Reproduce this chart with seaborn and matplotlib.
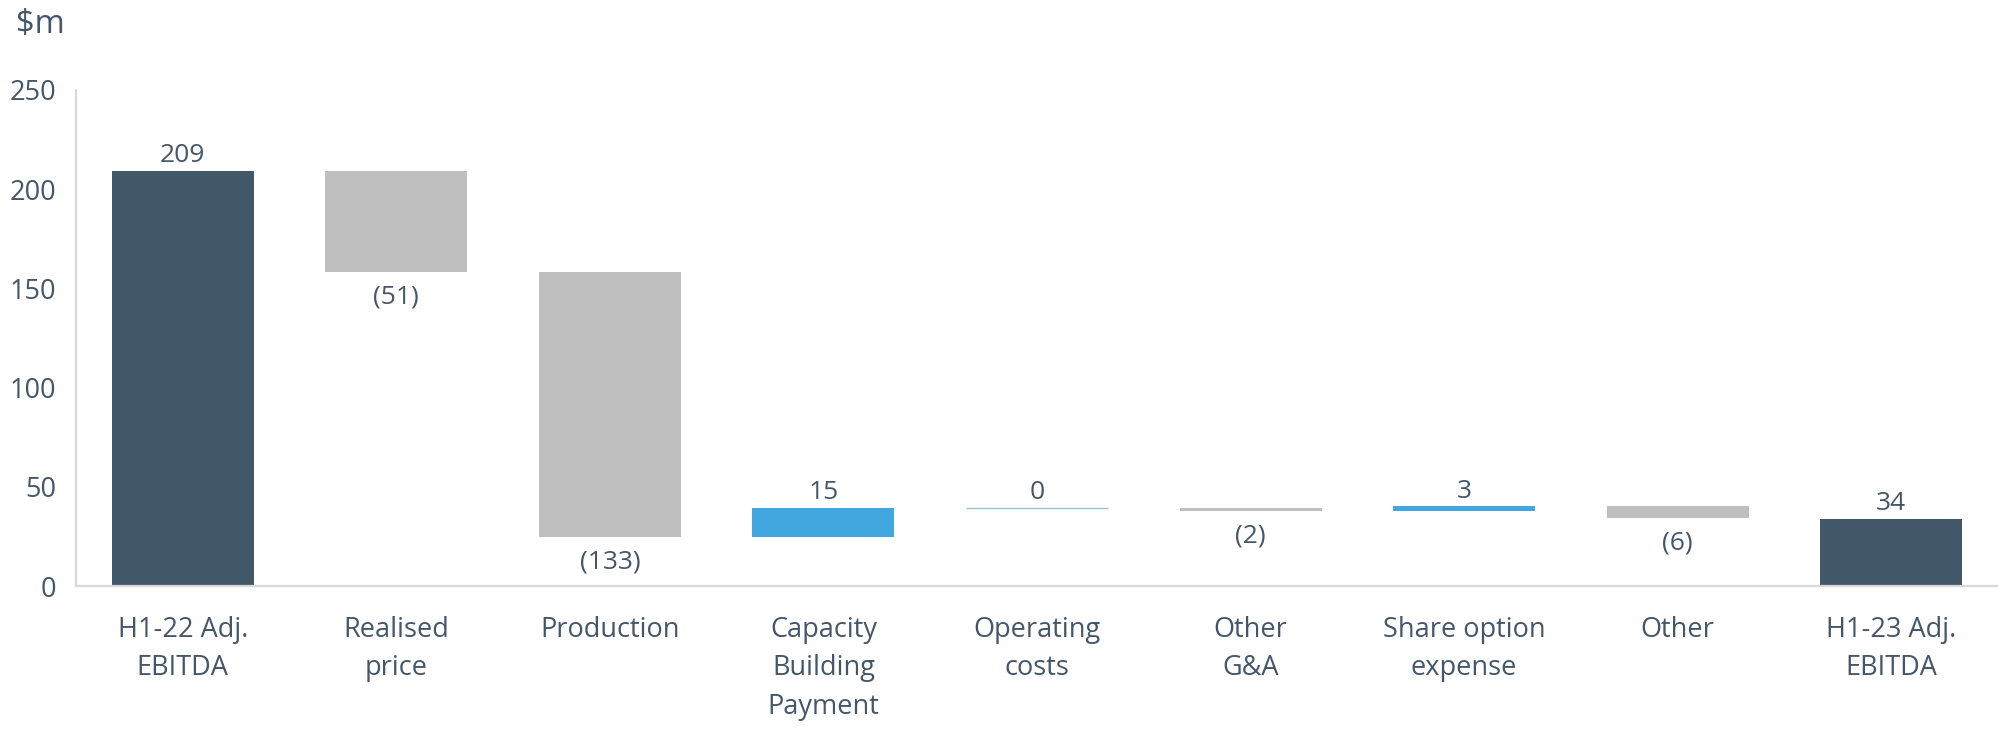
import matplotlib
matplotlib.use("Agg")
import matplotlib.pyplot as plt
import seaborn as sns
import numpy as np

categories = ["H1-22 Adj.\nEBITDA", "Realised\nprice", "Production", "Capacity\nBuilding\nPayment",
              "Operating\ncosts", "Other\nG&A", "Share option\nexpense", "Other", "H1-23 Adj.\nEBITDA"]
values = [209, -51, -133.5, 14.8, 0, -1.7, 2.5, -5.8, 34]
kinds = ["total", "neg", "neg", "pos", "zero", "neg", "pos", "neg", "total"]
value_labels = ["209", "(51)", "(133)", "15", "0", "(2)", "3", "(6)", "34"]

color_map = {"total": "#425869", "neg": "#BFBFBF", "pos": "#41A7DE", "zero": "#9DC3D8"}
text_color = "#44576A"

# waterfall bases
bases = []
running = 0.0
for v, k in zip(values, kinds):
    if k == "total":
        bases.append(0.0)
        running = v
    else:
        bases.append(running)
        running += v
bases = np.array(bases)
heights = np.array(values, dtype=float)

sns.set_theme(style="white")
plt.rcParams["font.family"] = ["Open Sans", "DejaVu Sans"]

fig = plt.figure(figsize=(19.99, 7.35), dpi=100)
ax = fig.add_axes([0.038, 0.2027, 0.9615, 0.675])

sns.barplot(x=categories, y=heights, bottom=bases, color="#BFBFBF", width=0.665,
            errorbar=None, order=categories, ax=ax, linewidth=0)
for p, k in zip(ax.patches, kinds):
    p.set_facecolor(color_map[k])
    if k == "zero":
        p.set_edgecolor(color_map[k])
        p.set_linewidth(1.0)

ax.set_ylim(0, 250)
ax.set_xlim(-0.5, 8.5)
ax.set_yticks([0, 50, 100, 150, 200, 250])
ax.set_xlabel("")
ax.set_ylabel("")

for i, (b, h, k, lab) in enumerate(zip(bases, heights, kinds, value_labels)):
    top = max(b, b + h)
    bot = min(b, b + h)
    if k == "neg":
        ax.annotate(lab, (i, bot), xytext=(0, -9), textcoords="offset points",
                    ha="center", va="top", fontsize=19, color=text_color)
    else:
        ax.annotate(lab, (i, top), xytext=(0, 2), textcoords="offset points",
                    ha="center", va="bottom", fontsize=19, color=text_color)

ax.tick_params(axis="both", length=0, labelsize=19.5, colors=text_color)
ax.tick_params(axis="x", pad=21.5)
ax.tick_params(axis="y", pad=14)
for lbl in ax.get_xticklabels():
    lbl.set_linespacing(1.5)
    lbl.set_verticalalignment("top")

sns.despine(ax=ax, top=True, right=True)
for s in ["left", "bottom"]:
    ax.spines[s].set_color("#D9D9D9")
    ax.spines[s].set_linewidth(1.6)

fig.text(0.008, 0.967, "\\$m", fontsize=23.5, color=text_color, ha="left", va="center")

fig.savefig("out.png", dpi=100, facecolor="white")
